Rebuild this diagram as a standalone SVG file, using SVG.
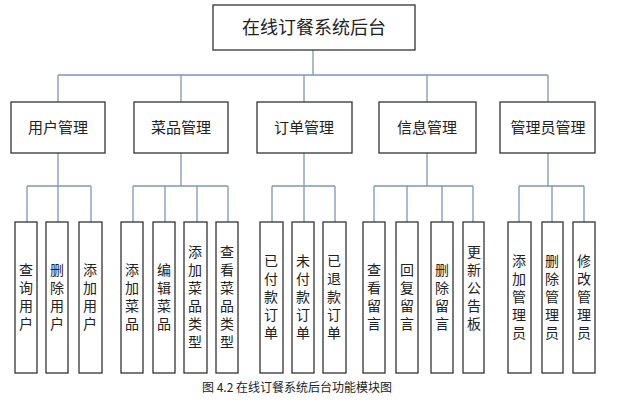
<svg xmlns="http://www.w3.org/2000/svg" width="634" height="404" viewBox="0 0 634 404">
<style>
rect{fill:#fff;stroke:#333;stroke-width:1.3}
text{font-family:"Noto Sans CJK SC","Liberation Sans",sans-serif;fill:#222}
.t{font-size:18px;text-anchor:middle}
.m{font-size:15px;text-anchor:middle}
.l{font-size:14px;writing-mode:vertical-rl;text-anchor:middle;letter-spacing:4px}
#c path{fill:none;stroke:#7f96b8;stroke-width:1.3}
</style>
<rect width="634" height="404" style="fill:#fff;stroke:none"/>
<g id="c">
<path d="M313 50V75M58 75H548M58 75V102M181 75V102M304 75V102M427 75V102M548 75V102"/>
<path d="M58 153V186M27 186H91M27 186V222M58 186V222M91 186V222"/>
<path d="M181 153V186M133 186H228M133 186V222M165 186V222M197 186V222M228 186V222"/>
<path d="M304 153V186M272 186H335M272 186V222M304 186V222M335 186V222"/>
<path d="M427 153V186M374 186H473M374 186V222M407 186V222M442 186V222M473 186V222"/>
<path d="M548 153V186M519 186H584M519 186V222M552 186V222M584 186V222"/>
</g>
<g id="root"><rect x="213" y="5" width="202" height="45"/><text class="t" x="314" y="34">在线订餐系统后台</text></g>
<g id="m1"><rect x="11" y="102" width="94" height="51"/><text class="m" x="58" y="133">用户管理</text></g>
<g id="m2"><rect x="134" y="102" width="94" height="51"/><text class="m" x="181" y="133">菜品管理</text></g>
<g id="m3"><rect x="257" y="102" width="95" height="51"/><text class="m" x="304" y="133">订单管理</text></g>
<g id="m4"><rect x="379" y="102" width="97" height="51"/><text class="m" x="427" y="133">信息管理</text></g>
<g id="m5"><rect x="500" y="102" width="95" height="51"/><text class="m" x="548" y="133">管理员管理</text></g>
<g id="a1"><rect x="15" y="222" width="22" height="151"/><text class="l" x="26" y="299">查询用户</text></g>
<g id="a2"><rect x="46" y="222" width="22" height="151"/><text class="l" x="57" y="299">删除用户</text></g>
<g id="a3"><rect x="79" y="222" width="23" height="151"/><text class="l" x="90" y="299">添加用户</text></g>
<g id="b1"><rect x="121" y="222" width="22" height="151"/><text class="l" x="132" y="299">添加菜品</text></g>
<g id="b2"><rect x="153" y="222" width="22" height="151"/><text class="l" x="164" y="299">编辑菜品</text></g>
<g id="b3"><rect x="184" y="222" width="23" height="151"/><text class="l" x="195" y="299">添加菜品类型</text></g>
<g id="b4"><rect x="216" y="222" width="22" height="151"/><text class="l" x="227" y="299">查看菜品类型</text></g>
<g id="c1"><rect x="260" y="222" width="23" height="151"/><text class="l" x="271" y="299">已付款订单</text></g>
<g id="c2"><rect x="292" y="222" width="22" height="151"/><text class="l" x="303" y="299">未付款订单</text></g>
<g id="c3"><rect x="323" y="222" width="23" height="151"/><text class="l" x="334" y="299">已退款订单</text></g>
<g id="d1"><rect x="363" y="222" width="22" height="151"/><text class="l" x="374" y="299">查看留言</text></g>
<g id="d2"><rect x="396" y="222" width="22" height="151"/><text class="l" x="407" y="299">回复留言</text></g>
<g id="d3"><rect x="431" y="222" width="22" height="151"/><text class="l" x="442" y="299">删除留言</text></g>
<g id="d4"><rect x="463" y="222" width="21" height="151"/><text class="l" x="474" y="290">更新公告板</text></g>
<g id="e1"><rect x="508" y="222" width="23" height="151"/><text class="l" x="519" y="299">添加管理员</text></g>
<g id="e2"><rect x="542" y="222" width="21" height="151"/><text class="l" x="552" y="299">删除管理员</text></g>
<g id="e3"><rect x="573" y="222" width="22" height="151"/><text class="l" x="584" y="299">修改管理员</text></g>
<text x="297" y="392" style="font-size:12px;text-anchor:middle">图 4.2  在线订餐系统后台功能模块图</text>
</svg>
